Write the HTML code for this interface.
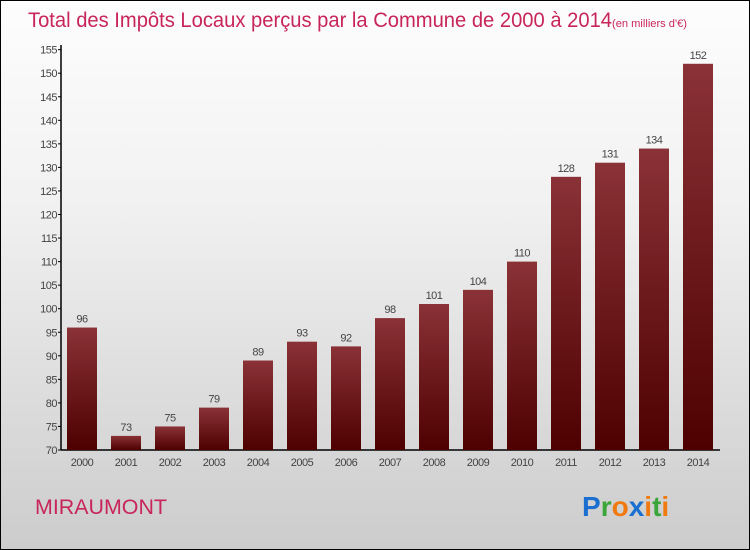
<!DOCTYPE html>
<html><head><meta charset="utf-8"><style>
html,body{margin:0;padding:0}
body{width:750px;height:550px;overflow:hidden;font-family:"Liberation Sans",sans-serif}
#frame{position:absolute;left:0;top:0;width:748px;height:548px;border:1px solid #000;background:linear-gradient(#fdfdfd,#f2f2f2 35%,#cccccc);}
</style></head><body>
<div id="frame"></div>
<svg id="chart" width="750" height="550" style="position:absolute;left:0;top:0">
<defs><linearGradient id="bg" x1="0" y1="0" x2="0" y2="1"><stop offset="0" stop-color="#8a3237"/><stop offset="1" stop-color="#4e0000"/></linearGradient></defs>
<text x="28" y="27" font-size="21" fill="#c8265a"><tspan textLength="584" lengthAdjust="spacingAndGlyphs">Total des Impôts Locaux perçus par la Commune de 2000 à 2014</tspan><tspan font-size="11" textLength="75" lengthAdjust="spacingAndGlyphs">(en milliers d'€)</tspan></text>
<text x="35" y="514" font-size="21" fill="#c8265a" textLength="132" lengthAdjust="spacingAndGlyphs">MIRAUMONT</text>
<text x="582" y="516" font-size="28" font-weight="bold"><tspan fill="#1a6fd0">P</tspan><tspan fill="#3aa63a">r</tspan><tspan fill="#f07a10">o</tspan><tspan fill="#1a6fd0">x</tspan><tspan fill="#f07a10">i</tspan><tspan fill="#3aa63a">t</tspan><tspan fill="#f07a10">i</tspan></text>
<g id="g"></g>
</svg>
<script>
const years=["2000","2001","2002","2003","2004","2005","2006","2007","2008","2009","2010","2011","2012","2013","2014"];
const values=[96,73,75,79,89,93,92,98,101,104,110,128,131,134,152];
const yTicks=[70,75,80,85,90,95,100,105,110,115,120,125,130,135,140,145,150,155];
const NS="http://www.w3.org/2000/svg";
const g=document.getElementById('g');
const y=v=>450-(v-70)*4.71;
const x=i=>82+i*44;
function mk(t,a){const e=document.createElementNS(NS,t);for(const k in a)e.setAttribute(k,a[k]);g.appendChild(e);return e;}
let ax=mk('line',{x1:61,y1:45,x2:61,y2:450,stroke:'#000','stroke-width':1.5});


let bx=mk('line',{x1:61,y1:450,x2:720,y2:450,stroke:'#000','stroke-width':1.5});


yTicks.forEach(v=>{
 mk('line',{x1:58,x2:61,y1:y(v),y2:y(v),stroke:'#000'});
 const t=mk('text',{x:57,y:y(v)+4,'text-anchor':'end','font-size':11,fill:'#444','letter-spacing':'-0.5'});
 t.textContent=v;
 
 
});
values.forEach((v,i)=>{
 const r=mk('rect',{x:x(i)-15,y:y(v),width:30,height:450-y(v),fill:'url(#bg)'});
 
 
 const l=mk('text',{x:x(i),y:y(v)-5,'text-anchor':'middle','font-size':11,fill:'#444','letter-spacing':'-0.5'});
 l.textContent=v;
 
 
 const t=mk('text',{x:x(i),y:466,'text-anchor':'middle','font-size':11,fill:'#444','letter-spacing':'-0.5'});
 t.textContent=years[i];
 
 
});
</script>
</body></html>
